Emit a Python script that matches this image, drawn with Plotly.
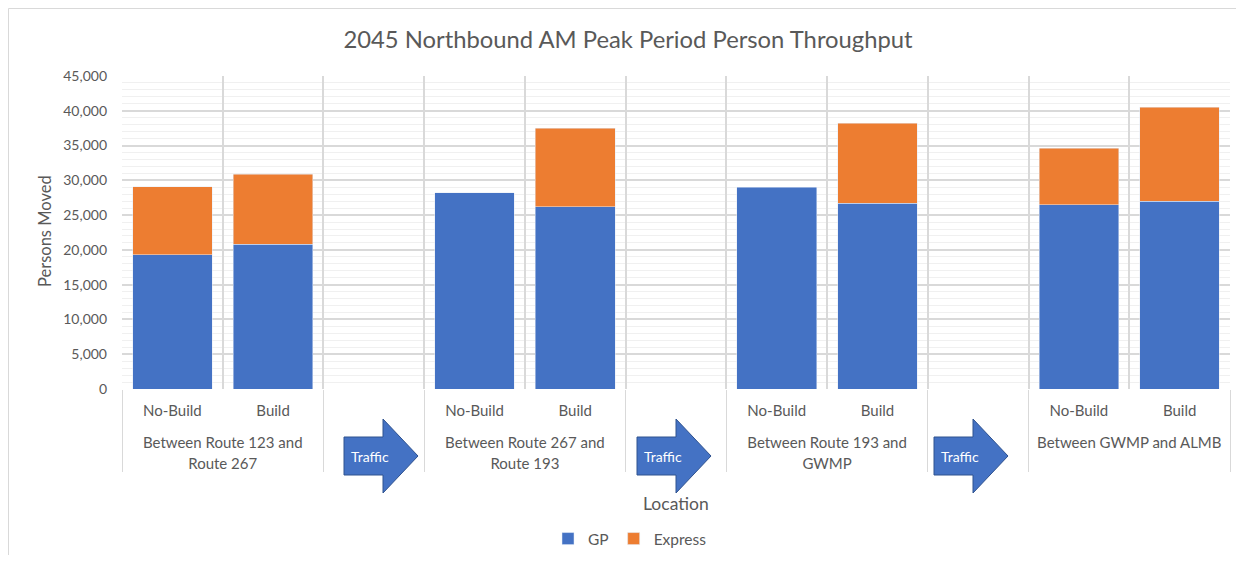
import plotly.graph_objects as go

# data
groups = ["Between Route 123 and<br>Route 267", " ",
          "Between Route 267 and<br>Route 193", "  ",
          "Between Route 193 and<br>GWMP", "   ",
          "Between GWMP and ALMB"]
scenarios = ["No-Build", "Build"]
gp = [19300, 20800, 28200, 26200, 29000, 26700, 26500, 27000]
express = [9800, 10100, 0, 11300, 0, 11500, 8100, 13500]

LBL = "<span style='font-size:15px'>{}</span>"

# build multicategory x with empty spacer columns between segments
x_grp, x_sub, gp_y, ex_y = [], [], [], []
k = 0
for g in groups:
    if g.strip():
        lab = "<br>" + "<br>".join(LBL.format(p) for p in g.split("<br>"))
        for s in scenarios:
            x_grp.append(lab)
            x_sub.append(LBL.format(s))
            gp_y.append(gp[k])
            ex_y.append(express[k] if express[k] else None)
            k += 1
    else:
        x_grp.append(g)
        x_sub.append(" ")
        gp_y.append(None)
        ex_y.append(None)

# page body has an 8px margin, so work in screen coords and subtract it
OFF = 8
W, H = 1244 - OFF, 563 - 2 * OFF
L, R, T, B = 122, 1230, 76, 389
FONT = "Lato"
GREY = "#595959"


def px(xp):
    return (xp - L) / (R - L)


def py(yp):
    return (B - yp) / (B - T)


fig = go.Figure()
fig.add_trace(go.Bar(x=[x_grp, x_sub], y=gp_y, name="GP", marker_color="#4472C4"))
fig.add_trace(go.Bar(x=[x_grp, x_sub], y=ex_y, name="Express", marker_color="#ED7D31"))

shapes = [dict(type="rect", xref="paper", yref="paper",
               x0=px(8.5), x1=px(1270), y0=py(8.5), y1=py(600),
               line=dict(color="#d9d9d9", width=1), layer="below")]
annotations = []
for left in [344, 637, 934]:
    bx1 = left + 39
    tip = left + 74
    path = (f"M {px(left)},{py(437)} L {px(bx1)},{py(437)} L {px(bx1)},{py(419)} "
            f"L {px(tip)},{py(456)} L {px(bx1)},{py(493)} L {px(bx1)},{py(475)} "
            f"L {px(left)},{py(475)} Z")
    shapes.append(dict(type="path", xref="paper", yref="paper", path=path,
                       fillcolor="#4472C4", line=dict(color="#2F528F", width=1)))
    annotations.append(dict(x=px(left + 26), y=py(456), xref="paper", yref="paper",
                            xanchor="center", yanchor="middle",
                            text="Traffic", showarrow=False,
                            font=dict(color="white", size=14, family=FONT)))

annotations.append(dict(x=px(676), y=py(503), xref="paper", yref="paper",
                        xanchor="center", yanchor="middle",
                        text="Location", showarrow=False,
                        font=dict(color=GREY, size=17.5, family=FONT)))
annotations.append(dict(x=px(45), y=py(231), xref="paper", yref="paper",
                        xanchor="center", yanchor="middle",
                        text="Persons Moved", textangle=-90, showarrow=False,
                        font=dict(color=GREY, size=16.5, family=FONT)))

fig.update_layout(
    width=W, height=H,
    margin=dict(l=L - OFF, r=W - (R - OFF), t=T - OFF, b=H - (B - OFF), autoexpand=False),
    barmode="stack", bargap=0.21,
    plot_bgcolor="white", paper_bgcolor="white",
    font=dict(family=FONT, color=GREY, size=15),
    title=dict(text="2045 Northbound AM Peak Period Person Throughput",
               x=(628 - OFF) / W, y=1 - (40 - OFF) / H, xanchor="center", yanchor="middle",
               font=dict(size=23.8, color=GREY, family=FONT)),
    legend=dict(orientation="h", x=px(630), y=py(539), xanchor="center", yanchor="middle",
                traceorder="normal", itemwidth=30, font=dict(size=15.5, color=GREY)),
    shapes=shapes, annotations=annotations,
)
fig.update_xaxes(type="multicategory", showgrid=True, gridcolor="#d9d9d9", gridwidth=1.5,
                 showdividers=True, dividercolor="#d9d9d9", dividerwidth=1,
                 tickfont=dict(size=16, color=GREY), ticks="", showline=False,
                 ticklabelstandoff=10)
fig.update_yaxes(range=[0, 45000], dtick=5000, tickformat=",", gridcolor="#d9d9d9",
                 gridwidth=1.5, zeroline=False, ticks="", tickfont=dict(size=14, color=GREY),
                 minor=dict(dtick=1000, showgrid=True, gridcolor="#f0f0f0", gridwidth=1),
                 ticklabelstandoff=14)

fig.write_html("out.html")
